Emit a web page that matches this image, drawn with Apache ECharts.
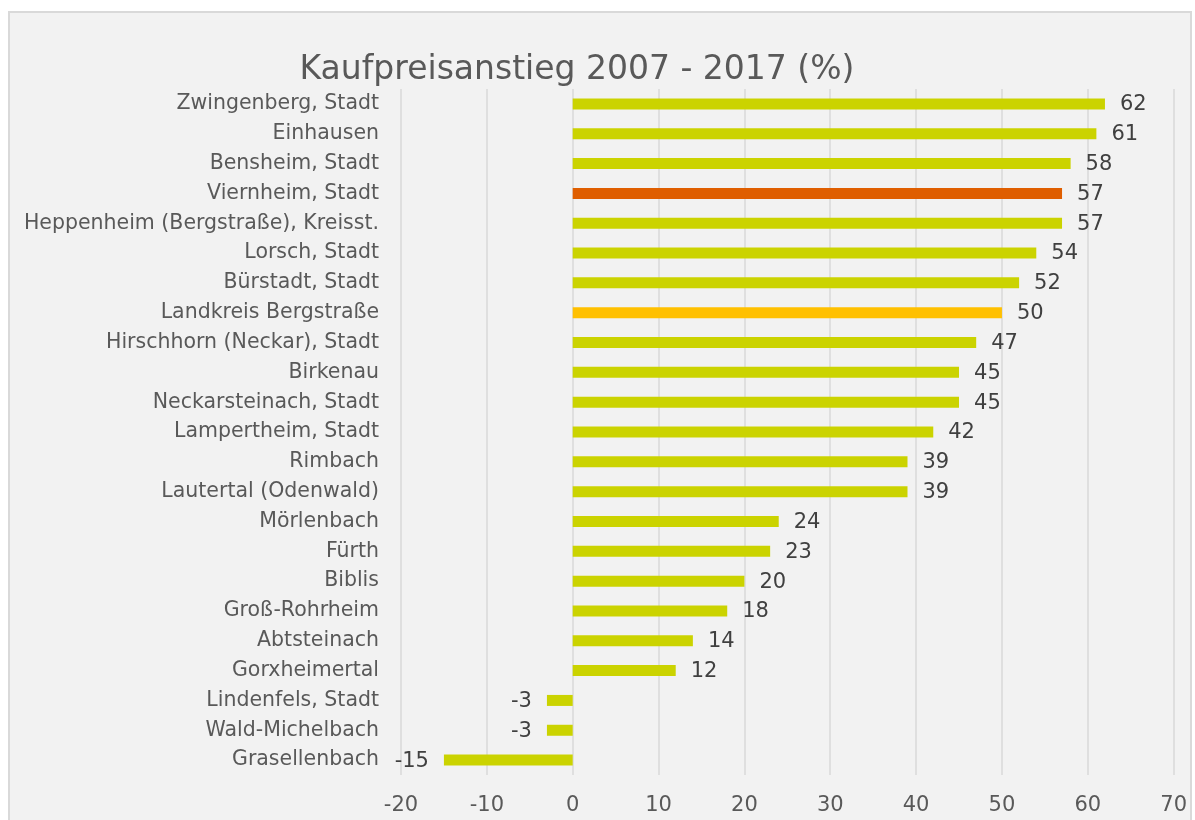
<!DOCTYPE html>
<html>
<head>
<meta charset="UTF-8">
<script type="text/javascript" src="https://cdn.jsdelivr.net/npm/echarts@6/dist/echarts.min.js"></script>
<title>Kaufpreisanstieg</title>
<style>
	html, body { margin: 0; padding: 0; background: #ffffff; }
	#main { position: absolute; left: 8px; top: 11px; width: 1184px; height: 820px;
		background: #f2f2f2; border: 2px solid #d9d9d9; box-sizing: border-box; }
</style>
</head>
<body>
<div id="main"></div>
<script type="text/javascript">
	// Kategorien von oben nach unten
	var orte = ["Zwingenberg, Stadt", "Einhausen", "Bensheim, Stadt", "Viernheim, Stadt",
		"Heppenheim (Bergstraße), Kreisst.", "Lorsch, Stadt", "Bürstadt, Stadt", "Landkreis Bergstraße",
		"Hirschhorn (Neckar), Stadt", "Birkenau", "Neckarsteinach, Stadt", "Lampertheim, Stadt",
		"Rimbach", "Lautertal (Odenwald)", "Mörlenbach", "Fürth", "Biblis", "Groß-Rohrheim",
		"Abtsteinach", "Gorxheimertal", "Lindenfels, Stadt", "Wald-Michelbach", "Grasellenbach"];
	var anstieg = [62, 61, 58, 57, 57, 54, 52, 50, 47, 45, 45, 42, 39, 39, 24, 23, 20, 18, 14, 12, -3, -3, -15];
	var xTicks = [-20, 70, 10];

	var farbe = function(name){
		if(name == "Viernheim, Stadt") return "#df5e00";
		if(name == "Landkreis Bergstraße") return "#ffc000";
		return "#cbd300";
	};

	var daten = [];
	for(var i in anstieg){
		daten[i] = {
			value: anstieg[i],
			itemStyle: {color: farbe(orte[i])},
			label: {position: anstieg[i] < 0 ? "left" : "right"}
		};
	}

	var myChart = echarts.init(document.getElementById('main'));
	var option = {
		backgroundColor: "#f2f2f2",
		animation: false,
		textStyle: {fontFamily: "DejaVu Sans"},
		title: {
			text: "Kaufpreisanstieg 2007 - 2017 (%)",
			left: 562,
			top: 36,
			textAlign: "center",
			textStyle: {fontSize: 33, fontWeight: "normal", color: "#595959", fontFamily: "DejaVu Sans"}
		},
		grid: {left: 391, right: 16, top: 76, height: 686, containLabel: false},
		xAxis: {
			type: "value",
			min: xTicks[0],
			max: xTicks[1],
			interval: xTicks[2],
			axisLine: {show: false},
			axisTick: {show: false},
			axisLabel: {fontSize: 21, color: "#595959", margin: 20},
			splitLine: {lineStyle: {color: "#d9d9d9", width: 1.5}}
		},
		yAxis: {
			type: "category",
			inverse: true,
			data: orte,
			axisLine: {show: false},
			axisTick: {show: false},
			axisLabel: {fontSize: 20.5, color: "#595959", margin: 22}
		},
		series: [{
			type: "bar",
			data: daten,
			barWidth: 11,
			label: {show: true, fontSize: 21, color: "#404040", distance: 15, offset: [0, 1]}
		}]
	};
	myChart.setOption(option);
</script>
</body>
</html>
